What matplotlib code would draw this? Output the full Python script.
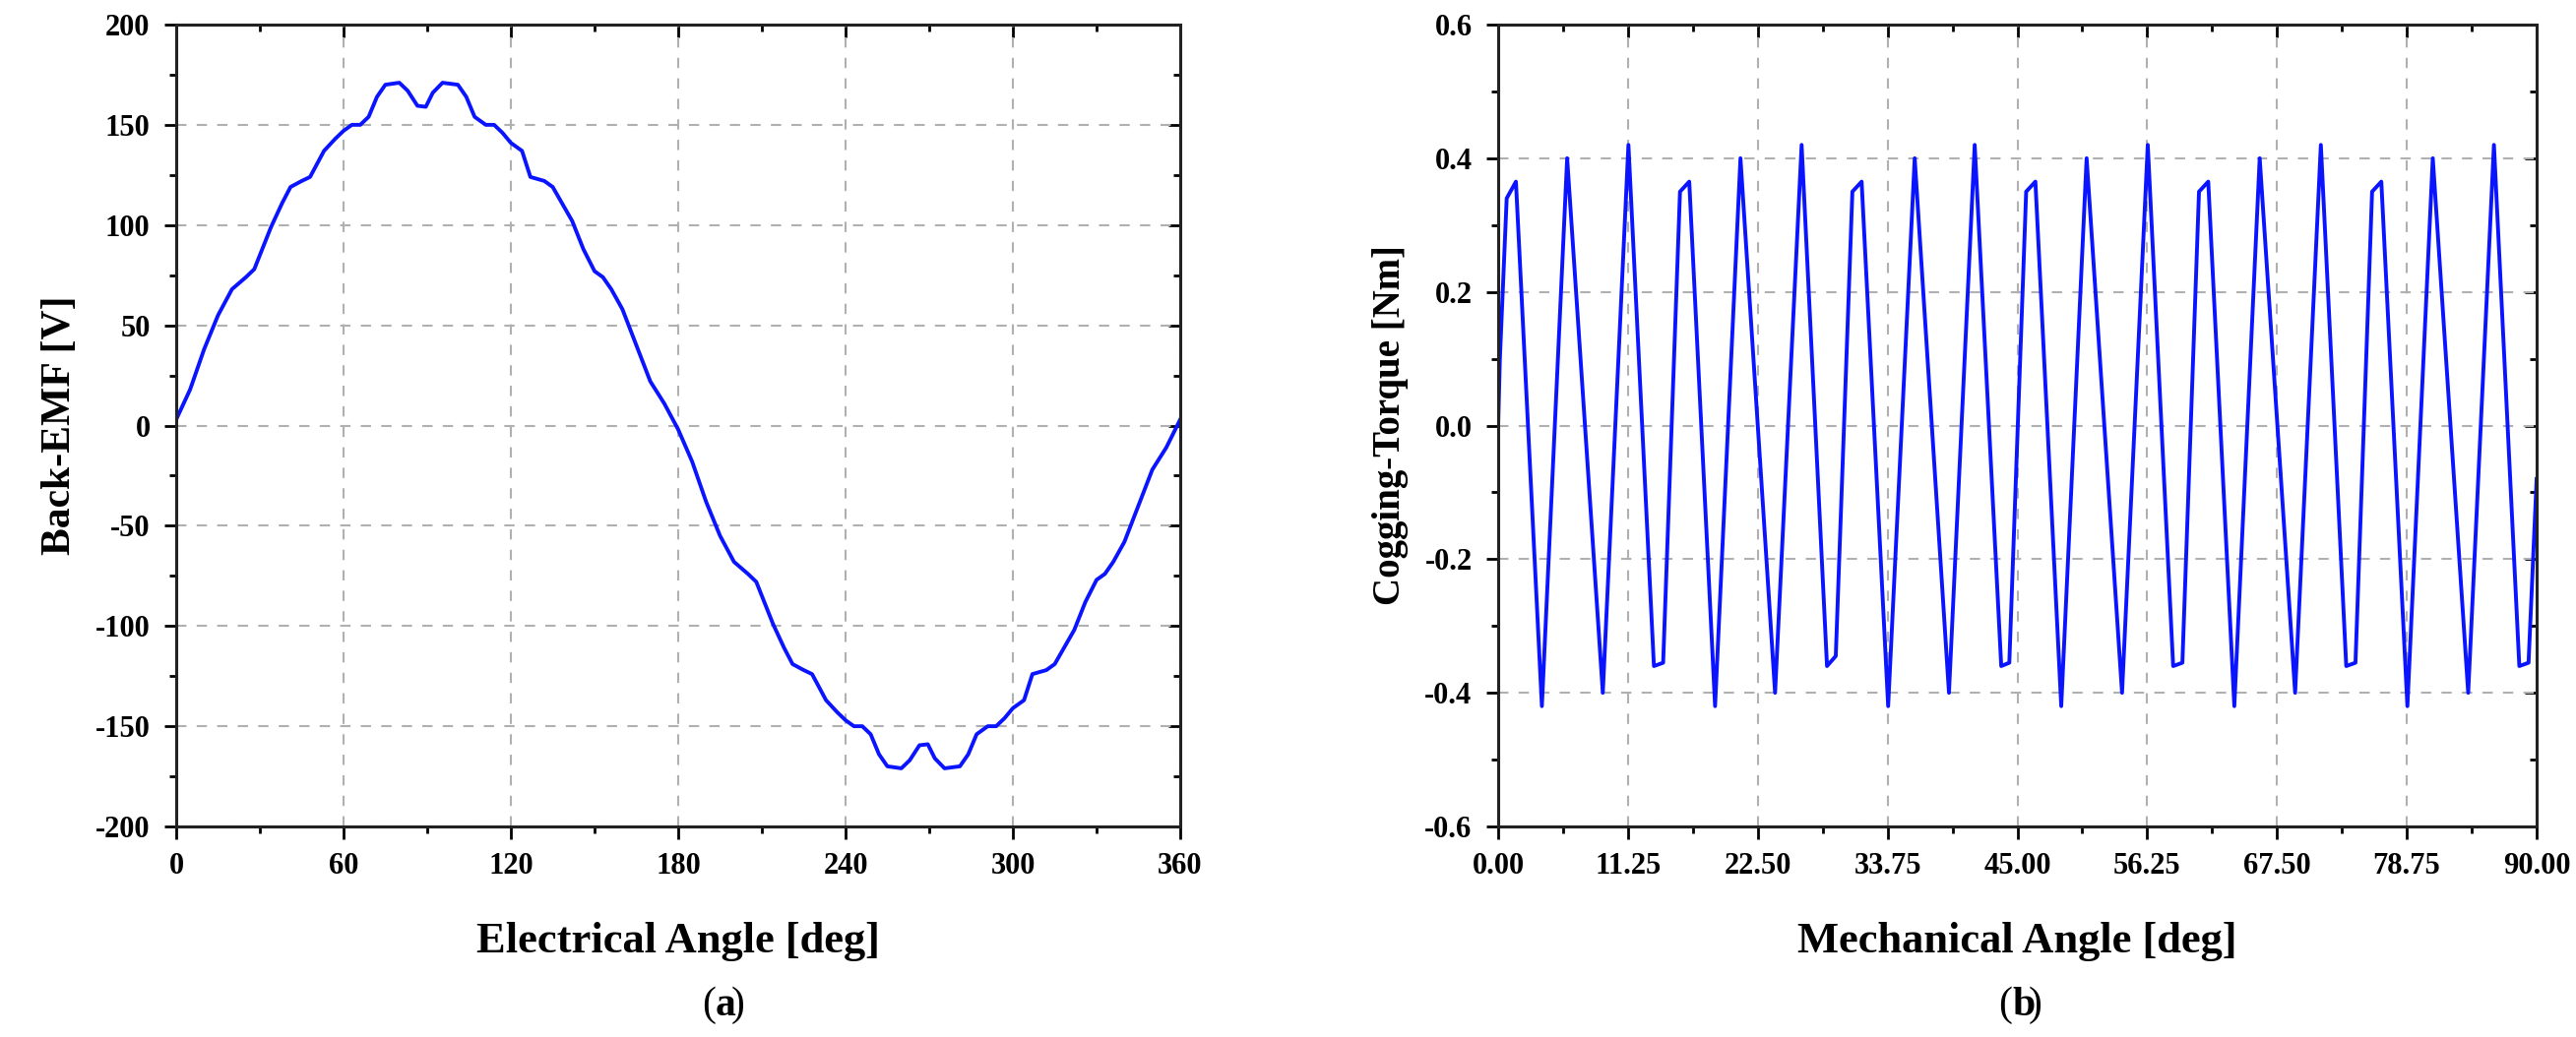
import matplotlib
matplotlib.use("Agg")
import matplotlib.pyplot as plt
from matplotlib.ticker import MultipleLocator, FormatStrFormatter

emf_angle = [0, 5, 10, 15, 20, 25, 28, 30, 34, 38, 41, 45, 48, 53, 57, 60, 63, 66, 69, 72, 75, 80, 83, 86.5,
             89.5, 92, 95.5, 101, 104, 107, 111, 114, 117, 120, 124, 127, 132, 135, 142, 146, 150, 153, 156,
             160, 165, 170, 175,
             180, 185, 190, 195, 200, 205, 208, 210, 214, 218, 221, 225, 228, 233, 237, 240, 243, 246, 249, 252,
             255, 260, 263, 266.5, 269.5, 272, 275.5, 281, 284, 287, 291, 294, 297, 300, 304, 307, 312, 315,
             322, 326, 330, 333, 336, 340, 345, 350, 355, 360]
emf_value = [3, 18, 38, 55, 68, 74, 78, 85, 99, 111, 119, 122, 124, 137, 143, 147, 150, 150, 154, 164, 170, 171,
             167, 159.5, 159, 166, 171, 170, 164, 154, 150, 150, 146, 141, 137, 124, 122, 119, 102, 88, 77, 74,
             68, 58, 40, 22, 11,
             -2, -18, -38, -55, -68, -74, -78, -85, -99, -111, -119, -122, -124, -137, -143, -147, -150, -150,
             -154, -164, -170, -171, -167, -159.5, -159, -166, -171, -170, -164, -154, -150, -150, -146, -141,
             -137, -124, -122, -119, -102, -88, -77, -74, -68, -58, -40, -22, -11, 3]

cog_angle = [0, 0.15, 0.74, 1.54, 3.79, 5.98, 9.07, 11.29, 13.5, 14.3,
             15.76, 16.56, 18.8, 21.0, 24.0, 26.3, 28.5, 29.26,
             30.7, 31.5, 33.8, 36.1, 39.07, 41.3, 43.6, 44.3,
             45.76, 46.56, 48.8, 51.0, 54.07, 56.3, 58.5, 59.3,
             60.74, 61.54, 63.8, 66.0, 69.07, 71.3, 73.5, 74.3,
             75.74, 76.54, 78.8, 81.0, 84.07, 86.3, 88.5, 89.3, 90.0]
cog_value = [0.0, 0.1, 0.34, 0.365, -0.42, 0.40, -0.40, 0.42, -0.36, -0.355,
             0.35, 0.365, -0.42, 0.40, -0.40, 0.42, -0.36, -0.345,
             0.35, 0.365, -0.42, 0.40, -0.40, 0.42, -0.36, -0.355,
             0.35, 0.365, -0.42, 0.40, -0.40, 0.42, -0.36, -0.355,
             0.35, 0.365, -0.42, 0.40, -0.40, 0.42, -0.36, -0.355,
             0.35, 0.365, -0.42, 0.40, -0.40, 0.42, -0.36, -0.355, -0.08]

plt.rcParams['font.family'] = ['Liberation Serif', 'DejaVu Serif']
plt.rcParams['font.weight'] = 'bold'
plt.rcParams['axes.unicode_minus'] = False

W, H = 2617, 1054
fig = plt.figure(figsize=(W / 100, H / 100), dpi=100)
top, bot = 25, 840
ax1 = fig.add_axes([179 / W, 1 - bot / H, (1199 - 179) / W, (bot - top) / H])
ax2 = fig.add_axes([1522 / W, 1 - bot / H, (2577 - 1522) / W, (bot - top) / H])


def style(ax):
    for s in ax.spines.values():
        s.set_linewidth(2.2)
        s.set_color('#222222')
    ax.grid(True, which='major', linestyle=(0, (5, 5)), color='#b0b0b0', linewidth=1.5)
    ax.tick_params(which='both', direction='out', width=2, labelsize=22, top=False, right=False)
    ax.tick_params(which='major', length=9, pad=10)
    ax.tick_params(which='minor', length=5)
    for lab in ax.get_xticklabels() + ax.get_yticklabels():
        lab.set_fontweight('bold')


ax1.plot(emf_angle, emf_value, color='#0a14ff', linewidth=2.8)
ax1.set_xlim(0, 360)
ax1.set_ylim(-200, 200)
ax1.xaxis.set_major_locator(MultipleLocator(60))
ax1.xaxis.set_minor_locator(MultipleLocator(30))
ax1.yaxis.set_major_locator(MultipleLocator(50))
ax1.yaxis.set_minor_locator(MultipleLocator(25))
style(ax1)
ax1.set_xlabel('Electrical Angle [deg]', fontsize=32, fontweight='bold', labelpad=30)
ax1.set_ylabel('Back-EMF [V]', fontsize=30, fontweight='bold', labelpad=12)

ax2.plot(cog_angle, cog_value, color='#0a14ff', linewidth=2.8)
ax2.set_xlim(0, 90)
ax2.set_ylim(-0.6, 0.6)
ax2.xaxis.set_major_locator(MultipleLocator(11.25))
ax2.xaxis.set_minor_locator(MultipleLocator(5.625))
ax2.xaxis.set_major_formatter(FormatStrFormatter('%.2f'))
ax2.yaxis.set_major_locator(MultipleLocator(0.2))
ax2.yaxis.set_minor_locator(MultipleLocator(0.1))
ax2.yaxis.set_major_formatter(FormatStrFormatter('%.1f'))
style(ax2)
ax2.set_xlabel('Mechanical Angle [deg]', fontsize=32, fontweight='bold', labelpad=30)
ax2.set_ylabel('Cogging-Torque [Nm]', fontsize=28, fontweight='bold', labelpad=12)

for ax in (ax1, ax2):
    sx = ax.secondary_xaxis('top')
    sx.xaxis.set_major_locator(ax.xaxis.get_major_locator())
    sx.xaxis.set_minor_locator(ax.xaxis.get_minor_locator())
    sx.tick_params(which='both', direction='in', labeltop=False, width=2)
    sx.tick_params(which='major', length=9)
    sx.tick_params(which='minor', length=5)
    sy = ax.secondary_yaxis('right')
    sy.yaxis.set_major_locator(ax.yaxis.get_major_locator())
    sy.yaxis.set_minor_locator(ax.yaxis.get_minor_locator())
    sy.tick_params(which='both', direction='in', labelright=False, width=2)
    sy.tick_params(which='major', length=9)
    sy.tick_params(which='minor', length=5)

ya = 1 - 1022 / H
fig.text(727 / W, ya, '(', fontsize=30, fontweight='normal', ha='right', va='center')
fig.text(727 / W, ya, 'a', fontsize=30, fontweight='bold', ha='left', va='center')
fig.text(743 / W, ya, ')', fontsize=30, fontweight='normal', ha='left', va='center')
fig.text(2044 / W, ya, '(', fontsize=30, fontweight='normal', ha='right', va='center')
fig.text(2044 / W, ya, 'b', fontsize=30, fontweight='bold', ha='left', va='center')
fig.text(2061 / W, ya, ')', fontsize=30, fontweight='normal', ha='left', va='center')

fig.savefig('out.png', dpi=100)
